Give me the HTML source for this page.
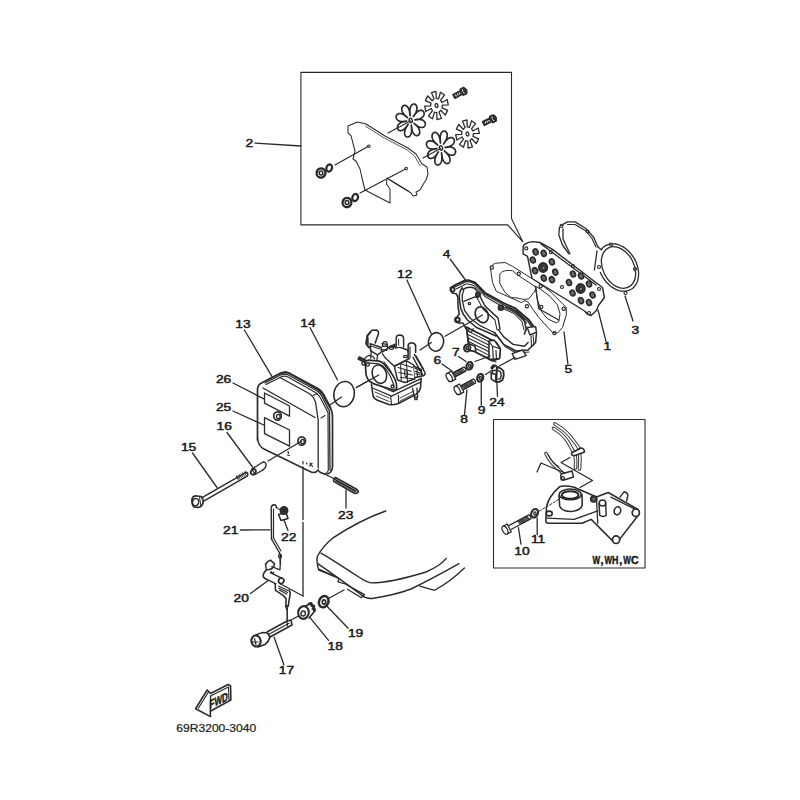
<!DOCTYPE html>
<html><head><meta charset="utf-8"><style>
html,body{margin:0;padding:0;background:#fff;width:800px;height:800px;overflow:hidden}
svg{display:block}
text{font-family:"Liberation Sans",sans-serif;fill:#1a1a1a;stroke:#1a1a1a;stroke-width:0.45px}
</style></head><body>
<svg width="800" height="800" viewBox="0 0 800 800" stroke="#2a2a2a" fill="none" stroke-linecap="round" stroke-linejoin="round">
<path d="M300.9,72.4 H511.5 V218.5 L522.8,241.8 L507.8,224.9 H300.9 Z" stroke-width="1.1" fill="none"/>
<text transform="translate(245.5,146.9) scale(1.28,1)" font-size="10.8" font-weight="normal" text-anchor="start">2</text>
<line x1="255.1" y1="143.1" x2="300.9" y2="146" stroke-width="1.3"/>
<path d="M348,126 L357.5,122 L366,124 L385,136 L408,148 L416,154 L422,164 L427,167 L428,174 L426,180 L424,183 L420,190 L416,192 L417,195 L413,196 L411,193 L408,191 L390,180 L387,178 L386.5,184 L390,189 L390,203 L365,190 L362.5,180 L360,169 L356,161 L353,159 L355,151 L351,135.6 L348,133 Z" stroke-width="1.04" fill="none"/>
<path d="M365.5,126.2 L384.2,138 L407.3,150 L414.5,156 L420,165.5" stroke-width="0.78" fill="none"/>
<line x1="390" y1="180" x2="408" y2="191" stroke-width="1.04"/>
<line x1="335" y1="165" x2="368" y2="146.5" stroke-width="1.17"/>
<ellipse cx="368.8" cy="146.3" rx="1.3" ry="1.3" stroke-width="1.04" fill="none" transform="rotate(0 368.8 146.3)"/>
<line x1="360" y1="193" x2="405.5" y2="169" stroke-width="1.17"/>
<ellipse cx="406.2" cy="168.6" rx="1.3" ry="1.3" stroke-width="1.04" fill="none" transform="rotate(0 406.2 168.6)"/>
<line x1="388" y1="133" x2="410.5" y2="121" stroke-width="1.17"/>
<line x1="423" y1="158" x2="440.5" y2="148.5" stroke-width="1.17"/>
<ellipse cx="321" cy="173" rx="4.4" ry="4.6" stroke-width="2.34" fill="none" transform="rotate(20 321 173)"/>
<ellipse cx="321" cy="173" rx="1.8" ry="2" stroke-width="1.56" fill="none" transform="rotate(0 321 173)"/>
<ellipse cx="329.2" cy="168" rx="2.8" ry="3.6" stroke-width="2.21" fill="none" transform="rotate(20 329.2 168)"/>
<ellipse cx="347" cy="202.5" rx="4.4" ry="4.6" stroke-width="2.34" fill="none" transform="rotate(20 347 202.5)"/>
<ellipse cx="347" cy="202.5" rx="1.8" ry="2" stroke-width="1.56" fill="none" transform="rotate(0 347 202.5)"/>
<ellipse cx="355.2" cy="197.5" rx="2.8" ry="3.6" stroke-width="2.21" fill="none" transform="rotate(20 355.2 197.5)"/>
<path d="M425.24,124.90 L425.15,125.22 L425.02,125.52 L424.87,125.82 L424.69,126.09 L424.47,126.35 L424.23,126.59 L423.96,126.81 L423.65,127.01 L423.32,127.18 L422.95,127.32 L422.55,127.42 L422.11,127.49 L421.64,127.52 L421.13,127.50 L420.56,127.42 L419.93,127.26 L419.22,127.01 L418.38,126.61 L417.27,125.95 L414.08,123.40 L417.08,126.23 L417.93,127.27 L418.49,128.09 L418.89,128.81 L419.18,129.45 L419.40,130.05 L419.55,130.61 L419.65,131.13 L419.71,131.62 L419.72,132.09 L419.69,132.53 L419.64,132.94 L419.55,133.32 L419.43,133.68 L419.29,134.01 L419.12,134.31 L418.94,134.58 L418.73,134.83 L418.50,135.04 L418.25,135.22 L417.99,135.37 L417.71,135.49 L417.42,135.58 L417.12,135.62 L416.80,135.64 L416.48,135.61 L416.15,135.55 L415.81,135.44 L415.47,135.29 L415.12,135.10 L414.77,134.85 L414.42,134.55 L414.07,134.19 L413.72,133.76 L413.37,133.25 L413.03,132.64 L412.68,131.89 L412.33,130.93 L411.97,129.58 L411.30,125.22 L411.65,129.63 L411.60,131.04 L411.49,132.07 L411.32,132.89 L411.13,133.59 L410.91,134.18 L410.67,134.70 L410.41,135.15 L410.14,135.54 L409.86,135.88 L409.57,136.17 L409.27,136.42 L408.97,136.62 L408.67,136.78 L408.36,136.90 L408.06,136.98 L407.75,137.02 L407.45,137.02 L407.16,136.99 L406.87,136.92 L406.59,136.82 L406.32,136.68 L406.06,136.50 L405.81,136.30 L405.58,136.05 L405.37,135.78 L405.18,135.47 L405.01,135.12 L404.86,134.74 L404.73,134.33 L404.64,133.87 L404.58,133.38 L404.56,132.84 L404.58,132.26 L404.65,131.62 L404.79,130.91 L405.01,130.10 L405.36,129.15 L405.94,127.89 L408.19,124.28 L405.69,127.67 L404.78,128.64 L404.05,129.27 L403.42,129.72 L402.85,130.06 L402.32,130.30 L401.83,130.48 L401.37,130.59 L400.93,130.65 L400.52,130.66 L400.14,130.64 L399.78,130.57 L399.44,130.47 L399.12,130.34 L398.83,130.18 L398.56,129.99 L398.32,129.78 L398.11,129.54 L397.92,129.28 L397.76,129.00 L397.63,128.70 L397.52,128.39 L397.45,128.06 L397.40,127.71 L397.39,127.36 L397.42,126.99 L397.47,126.62 L397.57,126.24 L397.70,125.85 L397.87,125.46 L398.09,125.06 L398.35,124.66 L398.67,124.27 L399.05,123.87 L399.50,123.47 L400.04,123.08 L400.70,122.69 L401.54,122.29 L402.74,121.88 L406.59,121.12 L402.70,121.52 L401.45,121.47 L400.54,121.33 L399.81,121.15 L399.20,120.93 L398.68,120.68 L398.22,120.41 L397.82,120.12 L397.48,119.81 L397.18,119.49 L396.92,119.16 L396.71,118.83 L396.53,118.49 L396.39,118.14 L396.28,117.79 L396.21,117.45 L396.18,117.10 L396.17,116.76 L396.20,116.43 L396.26,116.10 L396.35,115.78 L396.48,115.48 L396.63,115.18 L396.81,114.91 L397.03,114.65 L397.27,114.41 L397.54,114.19 L397.85,113.99 L398.18,113.82 L398.55,113.68 L398.95,113.58 L399.39,113.51 L399.86,113.48 L400.37,113.50 L400.94,113.58 L401.57,113.74 L402.28,113.99 L403.12,114.39 L404.23,115.05 L407.42,117.60 L404.42,114.77 L403.57,113.73 L403.01,112.91 L402.61,112.19 L402.32,111.55 L402.10,110.95 L401.95,110.39 L401.85,109.87 L401.79,109.38 L401.78,108.91 L401.81,108.47 L401.86,108.06 L401.95,107.68 L402.07,107.32 L402.21,106.99 L402.38,106.69 L402.56,106.42 L402.77,106.17 L403.00,105.96 L403.25,105.78 L403.51,105.63 L403.79,105.51 L404.08,105.42 L404.38,105.38 L404.70,105.36 L405.02,105.39 L405.35,105.45 L405.69,105.56 L406.03,105.71 L406.38,105.90 L406.73,106.15 L407.08,106.45 L407.43,106.81 L407.78,107.24 L408.13,107.75 L408.47,108.36 L408.82,109.11 L409.17,110.07 L409.53,111.42 L410.20,115.78 L409.85,111.37 L409.90,109.96 L410.01,108.93 L410.18,108.11 L410.37,107.41 L410.59,106.82 L410.83,106.30 L411.09,105.85 L411.36,105.46 L411.64,105.12 L411.93,104.83 L412.23,104.58 L412.53,104.38 L412.83,104.22 L413.14,104.10 L413.44,104.02 L413.75,103.98 L414.05,103.98 L414.34,104.01 L414.63,104.08 L414.91,104.18 L415.18,104.32 L415.44,104.50 L415.69,104.70 L415.92,104.95 L416.13,105.22 L416.32,105.53 L416.49,105.88 L416.64,106.26 L416.77,106.67 L416.86,107.13 L416.92,107.62 L416.94,108.16 L416.92,108.74 L416.85,109.38 L416.71,110.09 L416.49,110.90 L416.14,111.85 L415.56,113.11 L413.31,116.72 L415.81,113.33 L416.72,112.36 L417.45,111.73 L418.08,111.28 L418.65,110.94 L419.18,110.70 L419.67,110.52 L420.13,110.41 L420.57,110.35 L420.98,110.34 L421.36,110.36 L421.72,110.43 L422.06,110.53 L422.38,110.66 L422.67,110.82 L422.94,111.01 L423.18,111.22 L423.39,111.46 L423.58,111.72 L423.74,112.00 L423.87,112.30 L423.98,112.61 L424.05,112.94 L424.10,113.29 L424.11,113.64 L424.08,114.01 L424.03,114.38 L423.93,114.76 L423.80,115.15 L423.63,115.54 L423.41,115.94 L423.15,116.34 L422.83,116.73 L422.45,117.13 L422.00,117.53 L421.46,117.92 L420.80,118.31 L419.96,118.71 L418.76,119.12 L414.91,119.88 L418.80,119.48 L420.05,119.53 L420.96,119.67 L421.69,119.85 L422.30,120.07 L422.82,120.32 L423.28,120.59 L423.68,120.88 L424.02,121.19 L424.32,121.51 L424.58,121.84 L424.79,122.17 L424.97,122.51 L425.11,122.86 L425.22,123.21 L425.29,123.55 L425.32,123.90 L425.33,124.24 L425.30,124.57 L425.24,124.90Z" stroke-width="1.69" fill="none"/>
<ellipse cx="410.75" cy="120.5" rx="1.5" ry="2.2" stroke-width="1.43" fill="none" transform="rotate(-20 410.75 120.5)"/>
<path d="M455.49,152.53 L455.40,152.86 L455.27,153.17 L455.12,153.47 L454.94,153.76 L454.72,154.03 L454.48,154.27 L454.21,154.50 L453.90,154.70 L453.57,154.88 L453.20,155.02 L452.80,155.13 L452.36,155.20 L451.89,155.23 L451.38,155.20 L450.81,155.12 L450.18,154.96 L449.47,154.70 L448.63,154.29 L447.52,153.61 L444.33,150.98 L447.33,153.90 L448.18,154.97 L448.74,155.81 L449.14,156.55 L449.43,157.22 L449.65,157.83 L449.80,158.40 L449.90,158.94 L449.96,159.45 L449.97,159.93 L449.94,160.38 L449.89,160.80 L449.80,161.20 L449.68,161.57 L449.54,161.91 L449.37,162.22 L449.19,162.50 L448.98,162.75 L448.75,162.97 L448.50,163.16 L448.24,163.31 L447.96,163.43 L447.67,163.52 L447.37,163.57 L447.05,163.58 L446.73,163.56 L446.40,163.49 L446.06,163.38 L445.72,163.23 L445.37,163.03 L445.02,162.77 L444.67,162.47 L444.32,162.10 L443.97,161.65 L443.62,161.13 L443.28,160.50 L442.93,159.73 L442.58,158.74 L442.22,157.35 L441.55,152.86 L441.90,157.39 L441.85,158.85 L441.74,159.91 L441.57,160.76 L441.38,161.47 L441.16,162.09 L440.92,162.62 L440.66,163.08 L440.39,163.49 L440.11,163.83 L439.82,164.13 L439.52,164.39 L439.22,164.59 L438.92,164.76 L438.61,164.88 L438.31,164.96 L438.00,165.00 L437.70,165.01 L437.41,164.97 L437.12,164.90 L436.84,164.80 L436.57,164.65 L436.31,164.47 L436.06,164.26 L435.83,164.01 L435.62,163.73 L435.43,163.41 L435.26,163.05 L435.11,162.66 L434.98,162.23 L434.89,161.77 L434.83,161.26 L434.81,160.71 L434.83,160.11 L434.90,159.45 L435.04,158.72 L435.26,157.89 L435.61,156.90 L436.19,155.61 L438.44,151.89 L435.94,155.38 L435.03,156.38 L434.30,157.03 L433.67,157.50 L433.10,157.84 L432.57,158.09 L432.08,158.27 L431.62,158.39 L431.18,158.45 L430.77,158.46 L430.39,158.44 L430.03,158.37 L429.69,158.27 L429.37,158.13 L429.08,157.96 L428.81,157.77 L428.57,157.55 L428.36,157.31 L428.17,157.04 L428.01,156.75 L427.88,156.44 L427.77,156.12 L427.70,155.78 L427.65,155.43 L427.64,155.06 L427.67,154.68 L427.72,154.30 L427.82,153.90 L427.95,153.50 L428.12,153.10 L428.34,152.69 L428.60,152.29 L428.92,151.88 L429.30,151.47 L429.75,151.06 L430.29,150.66 L430.95,150.25 L431.79,149.85 L432.99,149.42 L436.84,148.64 L432.95,149.05 L431.70,149.00 L430.79,148.86 L430.06,148.67 L429.45,148.44 L428.93,148.18 L428.47,147.90 L428.07,147.61 L427.73,147.29 L427.43,146.96 L427.17,146.62 L426.96,146.28 L426.78,145.93 L426.64,145.57 L426.53,145.21 L426.46,144.86 L426.43,144.50 L426.42,144.15 L426.45,143.81 L426.51,143.47 L426.60,143.14 L426.73,142.83 L426.88,142.53 L427.06,142.24 L427.28,141.97 L427.52,141.73 L427.79,141.50 L428.10,141.30 L428.43,141.12 L428.80,140.98 L429.20,140.87 L429.64,140.80 L430.11,140.77 L430.62,140.80 L431.19,140.88 L431.82,141.04 L432.53,141.30 L433.37,141.71 L434.48,142.39 L437.67,145.02 L434.67,142.10 L433.82,141.03 L433.26,140.19 L432.86,139.45 L432.57,138.78 L432.35,138.17 L432.20,137.60 L432.10,137.06 L432.04,136.55 L432.03,136.07 L432.06,135.62 L432.11,135.20 L432.20,134.80 L432.32,134.43 L432.46,134.09 L432.63,133.78 L432.81,133.50 L433.02,133.25 L433.25,133.03 L433.50,132.84 L433.76,132.69 L434.04,132.57 L434.33,132.48 L434.63,132.43 L434.95,132.42 L435.27,132.44 L435.60,132.51 L435.94,132.62 L436.28,132.77 L436.63,132.97 L436.98,133.23 L437.33,133.53 L437.68,133.90 L438.03,134.35 L438.38,134.87 L438.72,135.50 L439.07,136.27 L439.42,137.26 L439.78,138.65 L440.45,143.14 L440.10,138.61 L440.15,137.15 L440.26,136.09 L440.43,135.24 L440.62,134.53 L440.84,133.91 L441.08,133.38 L441.34,132.92 L441.61,132.51 L441.89,132.17 L442.18,131.87 L442.48,131.61 L442.78,131.41 L443.08,131.24 L443.39,131.12 L443.69,131.04 L444.00,131.00 L444.30,130.99 L444.59,131.03 L444.88,131.10 L445.16,131.20 L445.43,131.35 L445.69,131.53 L445.94,131.74 L446.17,131.99 L446.38,132.27 L446.57,132.59 L446.74,132.95 L446.89,133.34 L447.02,133.77 L447.11,134.23 L447.17,134.74 L447.19,135.29 L447.17,135.89 L447.10,136.55 L446.96,137.28 L446.74,138.11 L446.39,139.10 L445.81,140.39 L443.56,144.11 L446.06,140.62 L446.97,139.62 L447.70,138.97 L448.33,138.50 L448.90,138.16 L449.43,137.91 L449.92,137.73 L450.38,137.61 L450.82,137.55 L451.23,137.54 L451.61,137.56 L451.97,137.63 L452.31,137.73 L452.63,137.87 L452.92,138.04 L453.19,138.23 L453.43,138.45 L453.64,138.69 L453.83,138.96 L453.99,139.25 L454.12,139.56 L454.23,139.88 L454.30,140.22 L454.35,140.57 L454.36,140.94 L454.33,141.32 L454.28,141.70 L454.18,142.10 L454.05,142.50 L453.88,142.90 L453.66,143.31 L453.40,143.71 L453.08,144.12 L452.70,144.53 L452.25,144.94 L451.71,145.34 L451.05,145.75 L450.21,146.15 L449.01,146.58 L445.16,147.36 L449.05,146.95 L450.30,147.00 L451.21,147.14 L451.94,147.33 L452.55,147.56 L453.07,147.82 L453.53,148.10 L453.93,148.39 L454.27,148.71 L454.57,149.04 L454.83,149.38 L455.04,149.72 L455.22,150.07 L455.36,150.43 L455.47,150.79 L455.54,151.14 L455.57,151.50 L455.58,151.85 L455.55,152.19 L455.49,152.53Z" stroke-width="1.69" fill="none"/>
<ellipse cx="441" cy="148" rx="1.5" ry="2.2" stroke-width="1.43" fill="none" transform="rotate(-20 441 148)"/>
<path d="M442.04,107.93 L447.59,110.36 L445.20,115.09 L440.85,110.30 L438.99,111.93 L441.49,118.37 L437.01,119.69 L436.76,112.59 L434.48,112.17 L432.46,118.84 L428.53,115.97 L432.51,110.73 L431.15,108.50 L425.81,111.50 L424.71,106.12 L430.61,105.81 L430.96,103.07 L425.41,100.64 L427.80,95.91 L432.15,100.70 L434.01,99.07 L431.51,92.63 L435.99,91.31 L436.24,98.41 L438.52,98.83 L440.54,92.16 L444.47,95.03 L440.49,100.27 L441.85,102.50 L447.19,99.50 L448.29,104.88 L442.39,105.19Z" stroke-width="1.3" fill="none"/>
<ellipse cx="436.5" cy="105.5" rx="1.4" ry="2" stroke-width="1.3" fill="none" transform="rotate(-20 436.5 105.5)"/>
<path d="M473.04,136.43 L478.59,138.86 L476.20,143.59 L471.85,138.80 L469.99,140.43 L472.49,146.87 L468.01,148.19 L467.76,141.09 L465.48,140.67 L463.46,147.34 L459.53,144.47 L463.51,139.23 L462.15,137.00 L456.81,140.00 L455.71,134.62 L461.61,134.31 L461.96,131.57 L456.41,129.14 L458.80,124.41 L463.15,129.20 L465.01,127.57 L462.51,121.13 L466.99,119.81 L467.24,126.91 L469.52,127.33 L471.54,120.66 L475.47,123.53 L471.49,128.77 L472.85,131.00 L478.19,128.00 L479.29,133.38 L473.39,133.69Z" stroke-width="1.3" fill="none"/>
<ellipse cx="467.5" cy="134" rx="1.4" ry="2" stroke-width="1.3" fill="none" transform="rotate(-20 467.5 134)"/>
<path d="M454.91,98.17 L462.84,93.84 L461.02,90.51 L453.09,94.83 Z" stroke-width="1.69" fill="#fff"/>
<line x1="455.96" y1="97.59" x2="454.14" y2="94.26" stroke-width="1.04"/>
<line x1="457.72" y1="96.64" x2="455.9" y2="93.3" stroke-width="1.04"/>
<line x1="459.47" y1="95.68" x2="457.66" y2="92.34" stroke-width="1.04"/>
<line x1="461.23" y1="94.72" x2="459.41" y2="91.38" stroke-width="1.04"/>
<path d="M463.46,94.99 L466.53,93.31 Q467.19,89.30 463.47,87.69 L460.40,89.37 Z" stroke-width="1.95" fill="#fff"/>
<ellipse cx="465" cy="90.5" rx="1.2" ry="1.8" stroke-width="1.56" fill="#444" transform="rotate(-28.6 465 90.5)"/>
<path d="M484.35,125.20 L492.22,121.26 L490.52,117.87 L482.65,121.80 Z" stroke-width="1.69" fill="#fff"/>
<line x1="485.42" y1="124.66" x2="483.72" y2="121.26" stroke-width="1.04"/>
<line x1="487.21" y1="123.77" x2="485.51" y2="120.37" stroke-width="1.04"/>
<line x1="489.0" y1="122.87" x2="487.3" y2="119.48" stroke-width="1.04"/>
<line x1="490.79" y1="121.98" x2="489.09" y2="118.58" stroke-width="1.04"/>
<path d="M492.80,122.43 L495.93,120.86 Q496.74,116.88 493.07,115.14 L489.94,116.70 Z" stroke-width="1.95" fill="#fff"/>
<ellipse cx="494.5" cy="118" rx="1.2" ry="1.8" stroke-width="1.56" fill="#444" transform="rotate(-26.6 494.5 118)"/>
<path d="M493.5,419.5 H645 V568 H493.5 Z" stroke-width="1.1" fill="none"/>
<text x="592.5" y="563.8" font-size="10.8" font-weight="bold" textLength="7.60" lengthAdjust="spacingAndGlyphs">W</text>
<text x="600.45" y="563.8" font-size="10.8" font-weight="bold">,</text>
<text x="604.5" y="563.8" font-size="10.8" font-weight="bold" textLength="7.50" lengthAdjust="spacingAndGlyphs">W</text>
<text x="612.0" y="563.8" font-size="10.8" font-weight="bold" textLength="6.40" lengthAdjust="spacingAndGlyphs">H</text>
<text x="619.2" y="563.8" font-size="10.8" font-weight="bold">,</text>
<text x="623.2" y="563.8" font-size="10.8" font-weight="bold" textLength="7.60" lengthAdjust="spacingAndGlyphs">W</text>
<text x="631.1" y="563.8" font-size="10.8" font-weight="bold" textLength="7.60" lengthAdjust="spacingAndGlyphs">C</text>
<text transform="translate(514.3,554.7) scale(1.28,1)" font-size="10.8" font-weight="normal" text-anchor="start">10</text>
<text transform="translate(530.9,543.4) scale(1.28,1)" font-size="10.8" font-weight="normal" text-anchor="start">11</text>
<line x1="518.4" y1="527.6" x2="521" y2="544.2" stroke-width="1.3"/>
<line x1="537.2" y1="518" x2="537.2" y2="534.6" stroke-width="1.3"/>
<text transform="translate(442.75,257.5) scale(1.28,1)" font-size="10.8" font-weight="normal" text-anchor="start">4</text>
<line x1="450.25" y1="259.25" x2="465.5" y2="280" stroke-width="1.3"/>
<text transform="translate(397,277.6) scale(1.28,1)" font-size="10.8" font-weight="normal" text-anchor="start">12</text>
<line x1="406.9" y1="280" x2="431.3" y2="333.8" stroke-width="1.3"/>
<text transform="translate(235.3,328.2) scale(1.28,1)" font-size="10.8" font-weight="normal" text-anchor="start">13</text>
<line x1="244.4" y1="330" x2="271.9" y2="376.3" stroke-width="1.3"/>
<text transform="translate(300.3,326.5) scale(1.28,1)" font-size="10.8" font-weight="normal" text-anchor="start">14</text>
<line x1="310" y1="327.5" x2="337.5" y2="380" stroke-width="1.3"/>
<text transform="translate(215.9,383.3) scale(1.28,1)" font-size="10.8" font-weight="normal" text-anchor="start">26</text>
<line x1="233" y1="383" x2="263.8" y2="398.8" stroke-width="1.3"/>
<text transform="translate(215.9,410.6) scale(1.28,1)" font-size="10.8" font-weight="normal" text-anchor="start">25</text>
<line x1="233" y1="411" x2="263.8" y2="425" stroke-width="1.3"/>
<text transform="translate(216.5,430.3) scale(1.28,1)" font-size="10.8" font-weight="normal" text-anchor="start">16</text>
<line x1="227" y1="432.5" x2="252.5" y2="467" stroke-width="1.3"/>
<text transform="translate(180.9,450.8) scale(1.28,1)" font-size="10.8" font-weight="normal" text-anchor="start">15</text>
<line x1="192.5" y1="453" x2="217" y2="487.5" stroke-width="1.3"/>
<text transform="translate(433.4,363.8) scale(1.28,1)" font-size="10.8" font-weight="normal" text-anchor="start">6</text>
<line x1="442" y1="364" x2="452" y2="371" stroke-width="1.3"/>
<text transform="translate(452,355.6) scale(1.28,1)" font-size="10.8" font-weight="normal" text-anchor="start">7</text>
<line x1="458.5" y1="356.5" x2="466" y2="361.5" stroke-width="1.3"/>
<text transform="translate(460.3,423.3) scale(1.28,1)" font-size="10.8" font-weight="normal" text-anchor="start">8</text>
<line x1="466.9" y1="390" x2="464.4" y2="415.6" stroke-width="1.3"/>
<text transform="translate(477.8,414.4) scale(1.28,1)" font-size="10.8" font-weight="normal" text-anchor="start">9</text>
<line x1="481.25" y1="381.25" x2="481.25" y2="405" stroke-width="1.3"/>
<text transform="translate(489.3,406) scale(1.28,1)" font-size="10.8" font-weight="normal" text-anchor="start">24</text>
<line x1="496.9" y1="382.5" x2="497.5" y2="396.3" stroke-width="1.3"/>
<text transform="translate(603.4,350.4) scale(1.28,1)" font-size="10.8" font-weight="normal" text-anchor="start">1</text>
<line x1="598" y1="310" x2="606" y2="341.4" stroke-width="1.3"/>
<text transform="translate(631.5,333.5) scale(1.28,1)" font-size="10.8" font-weight="normal" text-anchor="start">3</text>
<line x1="625" y1="296" x2="633" y2="321" stroke-width="1.3"/>
<text transform="translate(564.4,373.4) scale(1.28,1)" font-size="10.8" font-weight="normal" text-anchor="start">5</text>
<line x1="564" y1="332" x2="567.9" y2="363.9" stroke-width="1.3"/>
<text transform="translate(338,518.7) scale(1.28,1)" font-size="10.8" font-weight="normal" text-anchor="start">23</text>
<line x1="346" y1="490" x2="346" y2="508" stroke-width="1.3"/>
<text transform="translate(223,534) scale(1.28,1)" font-size="10.8" font-weight="normal" text-anchor="start">21</text>
<line x1="240.5" y1="530" x2="270" y2="529.8" stroke-width="1.3"/>
<text transform="translate(281,540.5) scale(1.28,1)" font-size="10.8" font-weight="normal" text-anchor="start">22</text>
<line x1="284" y1="520" x2="288" y2="530.5" stroke-width="1.3"/>
<text transform="translate(233.5,601.5) scale(1.28,1)" font-size="10.8" font-weight="normal" text-anchor="start">20</text>
<line x1="250.5" y1="593.5" x2="268.3" y2="580.4" stroke-width="1.3"/>
<text transform="translate(347.9,637.2) scale(1.28,1)" font-size="10.8" font-weight="normal" text-anchor="start">19</text>
<line x1="327" y1="606.3" x2="348.1" y2="628.2" stroke-width="1.3"/>
<text transform="translate(327.6,649.8) scale(1.28,1)" font-size="10.8" font-weight="normal" text-anchor="start">18</text>
<line x1="310" y1="617.6" x2="328.6" y2="640.4" stroke-width="1.3"/>
<text transform="translate(278.8,673.7) scale(1.28,1)" font-size="10.8" font-weight="normal" text-anchor="start">17</text>
<line x1="274.1" y1="637.2" x2="283.9" y2="664.8" stroke-width="1.3"/>
<text transform="translate(176.3,732.2) scale(1.185,1)" font-size="10.2" font-weight="normal" text-anchor="start" style="stroke-width:0.2px">69R3200-3040</text>
<path d="M560.6,225.6 L567.5,221.9 L575,221.9 L586.3,228.8 L593.8,237.5 L598,246.9" stroke-width="1.3" fill="none"/>
<path d="M598,246.9 L601.2,249.8 L602.2,248.5 L603.3,247.3 L604.6,246.3 L605.9,245.4 L607.4,244.8 L608.9,244.3 L610.5,243.9 L612.1,243.8 L613.9,243.8 L615.6,244.0 L617.4,244.4 L619.1,245.0 L620.9,245.7 L622.6,246.6 L624.3,247.6 L626.0,248.9 L627.6,250.2 L629.1,251.7 L630.6,253.3 L631.9,255.0 L633.2,256.8 L634.3,258.7 L635.4,260.6 L636.3,262.7 L637.0,264.7 L637.6,266.8 L638.1,268.8 L638.4,270.9 L638.6,272.9 L638.6,274.9 L638.4,276.9 L638.1,278.7 L637.7,280.5 L637.1,282.2 L636.3,283.8 L635.4,285.2 L634.4,286.5 L633.3,287.7 L632.1,288.7 L630.7,289.5 L629.3,290.2 L627.7,290.7 L626.1,291.1 L624.5,291.2 L622.8,291.2 L621.0,291.0 L619.3,290.6 L617.5,290.1 L615.7,289.3 L614.0,288.4 L612.3,287.4 L610.6,286.2 L609.0,284.8 L607.5,283.3 L606.0,281.7 L604.7,280.0 L603.4,278.2 L602.3,276.3 L601.3,274.4 L600.4,272.4" stroke-width="1.3" fill="none"/>
<path d="M594.4,270 L595.6,261 L597,251" stroke-width="1.3" fill="none"/>
<path d="M559.4,227.5 L558.8,235 L562.5,245 L568.8,253.8" stroke-width="1.3" fill="none"/>
<path d="M563,228.8 L563,238.8 L567.5,248.8 L570,253.8" stroke-width="1.3" fill="none"/>
<path d="M567.5,224.5 L575,224.5 L586,231 L592,238.5 L596,247" stroke-width="1.17" fill="none"/>
<ellipse cx="618.5" cy="267.5" rx="15.5" ry="22" stroke-width="1.3" fill="none" transform="rotate(-28 618.5 267.5)"/>
<ellipse cx="561.5" cy="226" rx="1.5" ry="1.5" stroke-width="1.17" fill="none" transform="rotate(0 561.5 226)"/>
<ellipse cx="587.5" cy="231.5" rx="1.5" ry="1.5" stroke-width="1.17" fill="none" transform="rotate(0 587.5 231.5)"/>
<ellipse cx="611" cy="244.5" rx="1.5" ry="1.5" stroke-width="1.17" fill="none" transform="rotate(0 611 244.5)"/>
<ellipse cx="635" cy="269" rx="1.5" ry="1.5" stroke-width="1.17" fill="none" transform="rotate(0 635 269)"/>
<ellipse cx="625.5" cy="293" rx="1.5" ry="1.5" stroke-width="1.17" fill="none" transform="rotate(0 625.5 293)"/>
<ellipse cx="599" cy="267" rx="1.5" ry="1.5" stroke-width="1.17" fill="none" transform="rotate(0 599 267)"/>
<path d="M523.1,246.6 L524.4,244.4 C527,242.5 530,241.6 533.1,241.6 L540,242.5 L552.5,249.4 L597.5,283.8 L602.5,287.5 L604.4,297.5 L598.8,305 L596,311 L591,315.5 C587,315 586,313 585,311.25 L563.75,298 L532,278.5 L527.5,256.3 L523.1,253.8 Z" stroke-width="1.43" fill="#fff"/>
<line x1="541" y1="244" x2="596" y2="285" stroke-width="1.3"/>
<ellipse cx="535.6" cy="251.9" rx="2.4" ry="3.0" stroke-width="1.62" fill="#6a6a6a" transform="rotate(-20 535.6 251.9)"/>
<ellipse cx="543.75" cy="253.4" rx="2.4" ry="3.0" stroke-width="1.62" fill="#6a6a6a" transform="rotate(-20 543.75 253.4)"/>
<ellipse cx="532.8" cy="260" rx="2.4" ry="3.0" stroke-width="1.62" fill="#6a6a6a" transform="rotate(-20 532.8 260)"/>
<ellipse cx="551.9" cy="261.9" rx="2.4" ry="3.0" stroke-width="1.62" fill="#6a6a6a" transform="rotate(-20 551.9 261.9)"/>
<ellipse cx="535" cy="270.6" rx="2.4" ry="3.0" stroke-width="1.62" fill="#6a6a6a" transform="rotate(-20 535 270.6)"/>
<ellipse cx="555.3" cy="272.2" rx="2.4" ry="3.0" stroke-width="1.62" fill="#6a6a6a" transform="rotate(-20 555.3 272.2)"/>
<ellipse cx="543.75" cy="278.1" rx="2.4" ry="3.0" stroke-width="1.62" fill="#6a6a6a" transform="rotate(-20 543.75 278.1)"/>
<ellipse cx="551.9" cy="279.7" rx="2.4" ry="3.0" stroke-width="1.62" fill="#6a6a6a" transform="rotate(-20 551.9 279.7)"/>
<ellipse cx="543.1" cy="267.5" rx="4.3" ry="4.6" stroke-width="1.69" fill="#3a3a3a" transform="rotate(0 543.1 267.5)"/>
<ellipse cx="543.5" cy="268" rx="1.6" ry="1.8" stroke-width="1.04" fill="#888" transform="rotate(0 543.5 268)"/>
<ellipse cx="573" cy="274" rx="2.4" ry="3.0" stroke-width="1.62" fill="#6a6a6a" transform="rotate(-20 573 274)"/>
<ellipse cx="581" cy="276" rx="2.4" ry="3.0" stroke-width="1.62" fill="#6a6a6a" transform="rotate(-20 581 276)"/>
<ellipse cx="569" cy="282.5" rx="2.4" ry="3.0" stroke-width="1.62" fill="#6a6a6a" transform="rotate(-20 569 282.5)"/>
<ellipse cx="589" cy="284" rx="2.4" ry="3.0" stroke-width="1.62" fill="#6a6a6a" transform="rotate(-20 589 284)"/>
<ellipse cx="572.5" cy="293" rx="2.4" ry="3.0" stroke-width="1.62" fill="#6a6a6a" transform="rotate(-20 572.5 293)"/>
<ellipse cx="592.5" cy="295" rx="2.4" ry="3.0" stroke-width="1.62" fill="#6a6a6a" transform="rotate(-20 592.5 295)"/>
<ellipse cx="581" cy="300.6" rx="2.4" ry="3.0" stroke-width="1.62" fill="#6a6a6a" transform="rotate(-20 581 300.6)"/>
<ellipse cx="589" cy="302.5" rx="2.4" ry="3.0" stroke-width="1.62" fill="#6a6a6a" transform="rotate(-20 589 302.5)"/>
<ellipse cx="580.6" cy="288.5" rx="4.3" ry="4.6" stroke-width="1.69" fill="#3a3a3a" transform="rotate(0 580.6 288.5)"/>
<ellipse cx="581" cy="289" rx="1.6" ry="1.8" stroke-width="1.04" fill="#888" transform="rotate(0 581 289)"/>
<ellipse cx="526.25" cy="248.4" rx="1.5" ry="1.5" stroke-width="1.17" fill="none" transform="rotate(0 526.25 248.4)"/>
<ellipse cx="550.9" cy="252.2" rx="1.5" ry="1.5" stroke-width="1.17" fill="none" transform="rotate(0 550.9 252.2)"/>
<ellipse cx="573" cy="266" rx="1.5" ry="1.5" stroke-width="1.17" fill="none" transform="rotate(0 573 266)"/>
<ellipse cx="562" cy="287" rx="1.5" ry="1.5" stroke-width="1.17" fill="none" transform="rotate(0 562 287)"/>
<ellipse cx="599" cy="289" rx="1.5" ry="1.5" stroke-width="1.17" fill="none" transform="rotate(0 599 289)"/>
<ellipse cx="589" cy="313" rx="1.5" ry="1.5" stroke-width="1.17" fill="none" transform="rotate(0 589 313)"/>
<path fill-rule="evenodd" fill="#fff" stroke-width="1.0" d="M490.6,266.9 C493,264 495,263 497.5,263.1 L505,262.5 L512.5,266.3 L540,283.8 L550,291.3 L561.3,302.5 L566.3,307.5 L566.3,315 L562.5,327.5 L557.5,333 L552.5,332.5 L538.8,317.5 L532.5,308.8 L528,302 L525,300.6 L521.3,302.5 L496.3,291.3 L492.5,282.5 L491.3,273.8 Z M500,273.8 C502,271 505,270 512.5,270.6 L517.5,275 L535,286.3 L536.3,288 L533.8,292.5 L528.8,298.8 C525,300 520,299 517,298 L511.3,297.5 L505,292.5 L500,283.8 Z M535.6,286.3 L540,288.8 L550,296.3 L557.5,305 L560,313.8 L558.8,321.3 L556.3,323 L547.5,318.8 L541.3,311.3 L537.5,300 Z"/>
<ellipse cx="491.9" cy="267.5" rx="1.6" ry="1.6" stroke-width="1.17" fill="none" transform="rotate(0 491.9 267.5)"/>
<ellipse cx="518.75" cy="273.75" rx="1.6" ry="1.6" stroke-width="1.17" fill="none" transform="rotate(0 518.75 273.75)"/>
<ellipse cx="540.6" cy="286.25" rx="1.6" ry="1.6" stroke-width="1.17" fill="none" transform="rotate(0 540.6 286.25)"/>
<ellipse cx="526.9" cy="306.25" rx="1.6" ry="1.6" stroke-width="1.17" fill="none" transform="rotate(0 526.9 306.25)"/>
<ellipse cx="541.25" cy="306.9" rx="1.6" ry="1.6" stroke-width="1.17" fill="none" transform="rotate(0 541.25 306.9)"/>
<ellipse cx="563.75" cy="308.75" rx="1.6" ry="1.6" stroke-width="1.17" fill="none" transform="rotate(0 563.75 308.75)"/>
<ellipse cx="554.4" cy="333.1" rx="1.6" ry="1.6" stroke-width="1.17" fill="none" transform="rotate(0 554.4 333.1)"/>
<path d="M535.6,287 L538.75,308.75 L558.75,320" stroke-width="1.3" fill="none"/>
<path fill="#fff" stroke="none" d="M450.6,287.8 L455.5,284.8 L464.5,280.6 L469,280.3 L475,282.5 L485,292.8 L503.7,303.1 L515.9,308.7 L529,320 L536.5,327 L536.5,342.5 L528.1,350 L526.2,355.6 L515,359.4 L500,358 L490,361 L470,351 L461,347 L466,329 L458.5,323 L455.5,320 L459.3,314 L458.1,307.3 L457.8,296.8 L452.1,293 Z"/>
<path d="M450.6,287.8 L455.5,284.8 L464.5,280.6 Q467,280 469,280.3 L475,282.5 L485,292.8 L503.7,303.1 L515.9,308.7 L529,320 L533.7,326.6" stroke-width="1.95" fill="none"/>
<path d="M454.8,287 L465.3,281.8 Q470,281 475,284 L485,294.5 L503.7,305 L515.9,310.5 L528,321.5 L532,327" stroke-width="1.3" fill="none"/>
<path d="M456,289 L466,284 Q470,283.5 474.5,286 L485,296.5 L503,307 L515,312.5 L526.5,323" stroke-width="1.04" fill="none"/>
<path d="M450.6,287.8 L452.1,293 L456.3,293.8 L457.8,296.8 L458.1,307.3 L459.3,314 L457,317 L455.5,320 L458.5,323 L463,323 L466,329" stroke-width="1.56" fill="none"/>
<ellipse cx="452.5" cy="289.6" rx="2.1" ry="2.1" stroke-width="1.82" fill="none" transform="rotate(0 452.5 289.6)"/>
<ellipse cx="457.4" cy="319.8" rx="2.3" ry="2.3" stroke-width="2.08" fill="none" transform="rotate(0 457.4 319.8)"/>
<path d="M463,289.3 Q469,285.5 475,288.5 L478,292.3 M462.3,287.8 Q459,292 459.3,297.5 L460.8,308.8 Q463,315 467.5,320 L476.5,327.5 L487,332 L496,336" stroke-width="1.56" fill="none"/>
<path d="M463.8,290 Q461.5,295 462.3,299.8 L464.5,310.3 L470.5,318.5 L479.5,325.3 L487,329 L495,333" stroke-width="1.3" fill="none"/>
<path d="M463.8,301.3 L475,296.8 L478,297.5" stroke-width="1.3" fill="none"/>
<ellipse cx="469.4" cy="303.5" rx="1.2" ry="1.2" stroke-width="1.3" fill="none" transform="rotate(0 469.4 303.5)"/>
<ellipse cx="481.75" cy="314.75" rx="6.2" ry="8.2" stroke-width="1.69" fill="none" transform="rotate(-25 481.75 314.75)"/>
<ellipse cx="478" cy="294.5" rx="2.2" ry="2.2" stroke-width="1.69" fill="#555" transform="rotate(0 478 294.5)"/>
<path d="M478,292.3 L485,306 L498.1,318.1 L500,329.4" stroke-width="1.43" fill="none"/>
<path d="M476,296 L483,309 L495,320 L497,330" stroke-width="1.04" fill="none"/>
<ellipse cx="500.9" cy="307.8" rx="2.3" ry="2.3" stroke-width="1.95" fill="#555" transform="rotate(0 500.9 307.8)"/>
<path d="M505.6,306.9 L516,311.6 L524.4,320 L526.2,329.4 L524.4,334" stroke-width="1.56" fill="none"/>
<path d="M504,309 L514,313.5 L522,321.5 L524,330" stroke-width="1.04" fill="none"/>
<path d="M498.1,329.4 L503.7,336.9 L513.1,344.4 L524.4,346.2 L528.1,342.5" stroke-width="1.43" fill="none"/>
<path d="M494.4,332.2 L503.7,344.4 L515.9,351 L528.1,350 L535.6,342.5 L536.5,333.1" stroke-width="1.56" fill="none"/>
<path d="M496,335 L505,346.5 L516,353 L529,352" stroke-width="1.04" fill="none"/>
<path d="M527.2,327.5 L535.6,326.6 L536.5,332.2 L530,335 Z" stroke-width="1.43" fill="#fff"/>
<path d="M533,335 L534,345 M531,336 L531.5,347" stroke-width="1.04" fill="none"/>
<path d="M512.2,353.7 L522.5,350 L526.2,355.6 L515,359.4 Z" stroke-width="1.43" fill="#fff"/>
<path d="M466.25,327.00 L496.87,342.75 L500.37,348.87 L499.49,358.50 L492.49,361.12 L468.87,348.87 Z" stroke-width="1.43" fill="#fff"/>
<path d="M466.25,327.00 L492.49,340.12" stroke-width="1.04" fill="none"/>
<path d="M466.83,330.65 L493.08,343.77" stroke-width="1.04" fill="none"/>
<path d="M467.41,334.29 L493.66,347.41" stroke-width="1.04" fill="none"/>
<path d="M468.00,337.94 L494.24,351.06" stroke-width="1.04" fill="none"/>
<path d="M468.58,341.58 L494.83,354.71" stroke-width="1.04" fill="none"/>
<path d="M469.16,345.22 L495.41,358.35" stroke-width="1.04" fill="none"/>
<path d="M469.75,348.87 L495.99,361.99" stroke-width="1.04" fill="none"/>
<path d="M466.25,327.00 L469.75,348.87" stroke-width="1.43" fill="none"/>
<path d="M468.00,329.62 Q469.75,333.12 471.50,332.25 L473.25,328.75" stroke-width="1.3" fill="none"/>
<path d="M468.87,343.62 L475.00,346.25 L475.87,351.50 L469.75,350.62" stroke-width="1.56" fill="#fff"/>
<ellipse cx="467.2" cy="348" rx="3.2" ry="3.6" stroke-width="1.82" fill="#fff" transform="rotate(20 467.2 348)"/>
<ellipse cx="467.2" cy="348" rx="1.5" ry="1.8" stroke-width="1.3" fill="#777" transform="rotate(0 467.2 348)"/>
<path d="M488.99,341.00 L494.24,340.12 L500.37,348.87 L499.49,358.50 L494.24,359.37 L488.99,359.37 Z" stroke-width="1.56" fill="#fff"/>
<path d="M492.49,346.25 L493.37,359.37 M495.99,350.62 L496.43,358.50" stroke-width="1.17" fill="none"/>
<path d="M489.87,342.75 L492.49,346.25 L500.37,348.87" stroke-width="1.17" fill="none"/>
<path d="M257.5,440 L257.5,389 Q258,384.5 261.5,383 L279,374 Q284.5,371 289.5,373.5 L318,389.5 Q321,392 323,395 L331.5,410.5 Q332.5,413 332.5,417 L332.5,467 Q332,472.5 327.5,474" stroke-width="1.69" fill="none"/>
<path d="M266,380.5 L280,373.2 Q284.5,370.5 289,372.8 L318.5,388.5 Q322,391 324,394.5 L331,408" stroke-width="1.17" fill="none"/>
<path d="M265,383 L280.5,375 Q284.5,373 288.5,375 L316.5,390.5 Q320,393 322,396.5 L329.5,411.5 L330,470" stroke-width="1.3" fill="none"/>
<path d="M266,384.6 L281,377 Q284.5,375.3 288,377 L315.5,392.5 Q318.5,395 320.5,398 L328,412.5 L328.3,470 Q327.8,473 324,474" stroke-width="1.17" fill="none"/>
<line x1="263" y1="388" x2="315" y2="417.5" stroke-width="1.3"/>
<path d="M280,377.5 L310,394 Q314,397 315.5,402 L318.2,420 L318.2,468" stroke-width="1.3" fill="none"/>
<line x1="313" y1="395.5" x2="317" y2="393.5" stroke-width="1.04"/>
<line x1="321" y1="418" x2="325" y2="415.5" stroke-width="1.04"/>
<path d="M257.5,438 Q258,446 264,449 L310,471.5 Q315,474 318.2,470" stroke-width="1.43" fill="none"/>
<path d="M318.2,470 Q320,474 326,473.5" stroke-width="1.17" fill="none"/>
<path d="M264.5,393 L289.5,406 L289.5,416.2 L264.5,403.2 Z" stroke-width="1.3" fill="none"/>
<path d="M264.5,417.7 L289.5,430 L289.5,446.2 L264.5,433.7 Z" stroke-width="1.3" fill="none"/>
<ellipse cx="277.5" cy="416" rx="3.8" ry="4.2" stroke-width="1.69" fill="none" transform="rotate(0 277.5 416)"/>
<ellipse cx="278.3" cy="416.5" rx="1.8" ry="2.2" stroke-width="1.3" fill="none" transform="rotate(0 278.3 416.5)"/>
<ellipse cx="301.7" cy="441" rx="3.8" ry="4.2" stroke-width="1.69" fill="none" transform="rotate(0 301.7 441)"/>
<ellipse cx="302.5" cy="441.5" rx="1.8" ry="2.2" stroke-width="1.3" fill="none" transform="rotate(0 302.5 441.5)"/>
<ellipse cx="344.1" cy="394.1" rx="10.2" ry="12.7" stroke-width="1.49" fill="none" transform="rotate(10 344.1 394.1)"/>
<line x1="330" y1="405" x2="341.5" y2="397" stroke-width="1.3"/>
<line x1="356.3" y1="387.5" x2="378.8" y2="375" stroke-width="1.3"/>
<ellipse cx="436" cy="341.9" rx="7.6" ry="9.3" stroke-width="1.56" fill="none" transform="rotate(10 436 341.9)"/>
<line x1="420" y1="350" x2="431.3" y2="342.5" stroke-width="1.3"/>
<line x1="445" y1="336.3" x2="482.5" y2="315" stroke-width="1.3"/>
<path d="M453.52,377.73 L466.08,371.03 Q466.32,368.29 463.92,366.97 L451.35,373.67" stroke-width="1.3" fill="#fff"/>
<line x1="456.11" y1="376.35" x2="452.89" y2="372.85" stroke-width="1.04"/>
<line x1="457.13" y1="375.81" x2="453.9" y2="372.31" stroke-width="1.04"/>
<line x1="458.14" y1="375.26" x2="454.92" y2="371.77" stroke-width="1.04"/>
<line x1="459.16" y1="374.72" x2="455.93" y2="371.23" stroke-width="1.04"/>
<line x1="460.17" y1="374.18" x2="456.95" y2="370.69" stroke-width="1.04"/>
<line x1="461.19" y1="373.64" x2="457.96" y2="370.15" stroke-width="1.04"/>
<line x1="462.2" y1="373.1" x2="458.98" y2="369.61" stroke-width="1.04"/>
<line x1="463.21" y1="372.56" x2="459.99" y2="369.06" stroke-width="1.04"/>
<line x1="464.23" y1="372.02" x2="461.01" y2="368.52" stroke-width="1.04"/>
<line x1="465.24" y1="371.48" x2="462.02" y2="367.98" stroke-width="1.04"/>
<path d="M455.82,379.11 L451.43,381.45 L447.10,373.33 L451.49,370.99 Z" stroke-width="1.3" fill="#fff"/>
<ellipse cx="449.27" cy="377.39" rx="2.53" ry="4.6" stroke-width="1.3" fill="#fff" transform="rotate(-28.1 449.27 377.39)"/>
<path d="M461.52,390.70 L475.60,383.02 Q475.82,380.28 473.40,378.98 L459.32,386.66" stroke-width="1.3" fill="#fff"/>
<line x1="464.58" y1="389.03" x2="461.32" y2="385.57" stroke-width="1.04"/>
<line x1="465.59" y1="388.48" x2="462.33" y2="385.02" stroke-width="1.04"/>
<line x1="466.6" y1="387.93" x2="463.34" y2="384.47" stroke-width="1.04"/>
<line x1="467.61" y1="387.38" x2="464.35" y2="383.92" stroke-width="1.04"/>
<line x1="468.62" y1="386.83" x2="465.36" y2="383.37" stroke-width="1.04"/>
<line x1="469.63" y1="386.28" x2="466.37" y2="382.81" stroke-width="1.04"/>
<line x1="470.64" y1="385.73" x2="467.38" y2="382.26" stroke-width="1.04"/>
<line x1="471.65" y1="385.18" x2="468.39" y2="381.71" stroke-width="1.04"/>
<line x1="472.65" y1="384.63" x2="469.4" y2="381.16" stroke-width="1.04"/>
<line x1="473.66" y1="384.08" x2="470.41" y2="380.61" stroke-width="1.04"/>
<line x1="474.67" y1="383.53" x2="471.42" y2="380.06" stroke-width="1.04"/>
<path d="M463.84,392.06 L459.48,394.43 L455.07,386.36 L459.43,383.98 Z" stroke-width="1.3" fill="#fff"/>
<ellipse cx="457.27" cy="390.4" rx="2.53" ry="4.6" stroke-width="1.3" fill="#fff" transform="rotate(-28.6 457.27 390.4)"/>
<ellipse cx="469.5" cy="365.8" rx="2.9" ry="3.9" stroke-width="2.21" fill="none" transform="rotate(20 469.5 365.8)"/>
<ellipse cx="469.7" cy="366" rx="1.1" ry="1.5" stroke-width="1.3" fill="none" transform="rotate(0 469.7 366)"/>
<ellipse cx="480.2" cy="377.8" rx="2.9" ry="3.9" stroke-width="2.21" fill="none" transform="rotate(20 480.2 377.8)"/>
<ellipse cx="480.4" cy="378" rx="1.1" ry="1.5" stroke-width="1.3" fill="none" transform="rotate(0 480.4 378)"/>
<line x1="475" y1="361.5" x2="490" y2="356" stroke-width="1.3"/>
<line x1="485.5" y1="374.5" x2="492.8" y2="370" stroke-width="1.3"/>
<line x1="498.75" y1="366.25" x2="515" y2="357.5" stroke-width="1.3"/>
<path d="M491.25,367.8 L493.1,365.3 L495.6,365.3 L496.9,367.2 L500.6,368.4 L503.4,370.9 L503.75,375.6 L502.5,380 L499.4,381.9 L496.9,381.9" stroke-width="1.82" fill="none"/>
<path d="M498.1,370.6 L500.6,371.9 L501.25,375.6 L500.3,378.75 L498.1,379.1" stroke-width="1.43" fill="none"/>
<path d="M491.25,373.1 L495.9,374.4 L495.9,381.9 L491.25,379.1 Z" stroke-width="1.56" fill="#fff"/>
<path d="M491.25,373.1 L493.1,370.6 L496.9,370.3" stroke-width="1.43" fill="none"/>
<path d="M496.9,367.2 L496.25,381.9" stroke-width="1.95" fill="none"/>
<path d="M492,368.5 L494,366.5" stroke-width="2.08" fill="none"/>
<path d="M371.4,383.9 L373.1,396.1 Q374,399 378,400.5 L388.9,404.5 Q392,405.5 398.5,403.5 L416,394.4 Q419.5,392 420.5,388 L421.2,378.6" stroke-width="1.56" fill="#fff"/>
<path d="M368.7,380.4 L393.2,391.7 L421.2,378.6" stroke-width="1.43" fill="none"/>
<path d="M373.1,388.2 L391.5,396.1 L420.4,382.1" stroke-width="1.17" fill="none"/>
<path d="M390.6,396.1 L391.5,404.5 M398.5,395.2 L398.5,403.5" stroke-width="1.17" fill="none"/>
<path d="M375,392 L389,398 M376,396 L389,401.5 M400,398 L414,391 M400,401 L414,394" stroke-width="0.91" fill="none"/>
<path d="M412.5,388.2 L414.2,396.1 Q416,398 417.7,397 L416.9,388.2" stroke-width="1.3" fill="none"/>
<path d="M414.5,397 L415,399.5 L417,399.5 L417,397" stroke-width="1.43" fill="none"/>
<path d="M382.50,351.88 L390.00,346.88 L398.75,346.88 L407.50,350.00 L408.75,353.12" stroke-width="1.56" fill="none"/>
<path d="M382.50,353.75 Q385.00,358.12 387.50,360.00 L394.38,366.25 L407.50,359.38 L409.38,358.75" stroke-width="1.43" fill="none"/>
<path d="M389.38,346.88 Q390.62,345.62 393.75,345.00 L398.75,345.94 L399.38,347.50" stroke-width="1.3" fill="none"/>
<path d="M394.38,344.38 Q396.25,343.75 398.75,345.00 L400.00,346.88 L395.62,348.12 Z" stroke-width="1.43" fill="#fff"/>
<ellipse cx="391.5" cy="348" rx="2.2" ry="1.3" stroke-width="1.3" fill="none" transform="rotate(0 391.5 348)"/>
<ellipse cx="405.5" cy="356.5" rx="2.0" ry="1.2" stroke-width="1.3" fill="none" transform="rotate(0 405.5 356.5)"/>
<path d="M387.50,346.25 L386.88,342.50 Q385.62,341.25 383.75,341.88 L382.50,343.75 L382.50,346.25 Z" stroke-width="1.3" fill="none"/>
<path d="M382,343.6 Q387,344 387.6,345.2 Q388,348 386.5,350.3 L382,349.7" stroke-width="1.3" fill="none"/>
<path d="M394.38,366.25 L406.25,360.62 L413.75,365.00 L415.00,378.75 L405.00,382.50 L397.50,380.00 Z" stroke-width="1.43" fill="#fff"/>
<path d="M400.62,363.75 L412.50,367.50 M398.12,367.50 L411.25,371.25 M398.75,372.50 L412.50,375.00 M400.62,377.50 L413.12,378.75" stroke-width="1.04" fill="none"/>
<path d="M406.25,360.62 L406.88,368.75 L407.50,382.50 M400.62,364.38 L401.25,380.00" stroke-width="1.04" fill="none"/>
<path d="M405.00,370.00 Q403.75,375.00 406.25,377.50 Q408.75,375.00 406.88,371.25" stroke-width="1.17" fill="none"/>
<path d="M413.75,366.25 L421.25,369.38 L421.88,376.25 L415.00,377.50" stroke-width="1.43" fill="#fff"/>
<path d="M415.00,368.12 L420.62,370.62 M415.00,371.25 L420.00,373.12 M415.62,373.75 L420.62,375.00 M416.88,368.75 L417.50,376.88" stroke-width="1.17" fill="none"/>
<path d="M396.2,346.5 L396.2,337.5 Q396.5,335 399.9,335 Q403.4,335.2 403.6,338 L403.6,347" stroke-width="1.43" fill="#fff"/>
<line x1="398.6" y1="339" x2="398.6" y2="345" stroke-width="1.04"/>
<path d="M408.12,358.12 L408.12,345.62 Q408.44,342.81 411.88,342.81 Q415.31,343.12 415.62,345.94 L415.62,352.50" stroke-width="1.56" fill="#fff"/>
<path d="M410.00,346.88 L410.00,357.50" stroke-width="1.17" fill="none"/>
<path d="M414.38,354.38 L425.00,372.50 Q425.62,375.00 423.12,375.94 L413.12,357.50" stroke-width="1.43" fill="none"/>
<path d="M415.94,355.62 L423.75,369.38" stroke-width="1.04" fill="none"/>
<path d="M365.2,362 Q366,360.5 368.7,360.2 L379.2,361.1 Q382.5,362 384.5,364.6 L389.7,370.7 Q393,375 395,379.5 Q397,384 396.7,388.2 Q395.5,390.5 393.2,390 L374,383.9 L369.6,381.2 Q367,378.5 366.1,375.1 Z" stroke-width="1.69" fill="#fff"/>
<path d="M367.5,362.8 L378.5,363.8 Q383,365 386,369 Q391,376 393.5,384 L394,388" stroke-width="1.17" fill="none"/>
<ellipse cx="379.4" cy="374.2" rx="7.0" ry="9.4" stroke-width="1.56" fill="none" transform="rotate(-20 379.4 374.2)"/>
<path d="M384,362 Q389,368 391,372" stroke-width="1.17" fill="none"/>
<ellipse cx="367.7" cy="364.5" rx="1.6" ry="1.6" stroke-width="1.3" fill="none" transform="rotate(0 367.7 364.5)"/>
<ellipse cx="392.5" cy="386.5" rx="1.5" ry="1.5" stroke-width="1.3" fill="none" transform="rotate(0 392.5 386.5)"/>
<path d="M370.2,332.3 L371.9,330.3 L376.4,330 L378.1,331.2 L378.6,333.4 L375.2,343" stroke-width="1.56" fill="none"/>
<path d="M370.2,332.3 L367.4,335.7 L366.2,343.6 L368.5,347 L371.3,348" stroke-width="2.08" fill="none"/>
<path d="M367.8,337.5 L368,344" stroke-width="1.56" fill="none"/>
<path d="M370.2,343.6 L381.4,347.5 L381.4,352 L377.5,354.8 L370.7,350.9 Z" stroke-width="1.43" fill="#fff"/>
<path d="M371,346 L380,349" stroke-width="1.04" fill="none"/>
<path d="M371.3,350.5 L370.7,358.2 M377.5,354.8 L377,360" stroke-width="1.3" fill="none"/>
<path d="M364.6,358.7 Q367,355.5 369.6,355.4 Q373,356 374.7,358.7" stroke-width="1.3" fill="none"/>
<path d="M358.2,359 L364.6,362.2 L365.5,360.2 L359.5,357 Z" stroke-width="1.69" fill="#444"/>
<ellipse cx="363.5" cy="363.2" rx="1.6" ry="1.8" stroke-width="1.43" fill="none" transform="rotate(0 363.5 363.2)"/>
<line x1="356.3" y1="387.5" x2="378.8" y2="375" stroke-width="1.3"/>
<path d="M201.6,497.8 L245.6,472.6 Q248.5,472.2 247.6,475.8 L202.4,501.8" stroke-width="1.43" fill="#fff"/>
<line x1="236.6" y1="476.3" x2="238.4" y2="479.7" stroke-width="0.91"/>
<line x1="238.1" y1="475.43" x2="239.9" y2="478.83" stroke-width="0.91"/>
<line x1="239.6" y1="474.57" x2="241.4" y2="477.97" stroke-width="0.91"/>
<line x1="241.1" y1="473.7" x2="242.9" y2="477.1" stroke-width="0.91"/>
<line x1="242.6" y1="472.83" x2="244.4" y2="476.23" stroke-width="0.91"/>
<line x1="244.1" y1="471.97" x2="245.9" y2="475.37" stroke-width="0.91"/>
<line x1="245.6" y1="471.1" x2="247.4" y2="474.5" stroke-width="0.91"/>
<line x1="236.8" y1="476" x2="237.8" y2="478.6" stroke-width="1.04"/>
<path d="M192,499 Q193,495.5 197,496 L201,496.5 Q203.5,498.5 203,503 Q202,507 198,507.5 L194,507 Q191.5,504 192,499 Z" stroke-width="1.69" fill="#fff"/>
<ellipse cx="195.6" cy="502.2" rx="3.0" ry="3.7" stroke-width="1.3" fill="none" transform="rotate(15 195.6 502.2)"/>
<line x1="199.5" y1="497.5" x2="201" y2="506.5" stroke-width="1.04"/>
<path d="M252,469 L263,462 Q266.5,462 266,465.5 Q265.5,469 262,470.5 L255,474.5 Z" stroke-width="1.43" fill="#fff"/>
<ellipse cx="253.3" cy="471.8" rx="2.4" ry="3.0" stroke-width="1.82" fill="none" transform="rotate(25 253.3 471.8)"/>
<line x1="268" y1="461" x2="301.7" y2="441" stroke-width="1.3"/>
<path d="M335.5,477.5 L357,489.5 Q359,491.5 357.5,493 Q355.5,494 353,492.5 L334,481.5 Q332.5,479.5 335.5,477.5 Z" stroke-width="1.62" fill="#fff"/>
<path d="M335.5,479.8 L356,491.2" stroke-width="1.69" fill="none"/>
<path d="M336,481 L354.5,491.6" stroke-width="0.91" fill="none"/>
<line x1="319" y1="471.5" x2="335" y2="479" stroke-width="1.3"/>
<line x1="303" y1="461.5" x2="303" y2="464" stroke-width="1.17"/>
<line x1="303" y1="467" x2="303" y2="519.5" stroke-width="1.3"/>
<line x1="303" y1="522.5" x2="303" y2="596" stroke-width="1.3"/>
<line x1="306.5" y1="463" x2="307" y2="464" stroke-width="1.17"/>
<line x1="288" y1="451.5" x2="288.5" y2="453.5" stroke-width="1.17"/>
<line x1="287.5" y1="455" x2="289.5" y2="455.5" stroke-width="1.17"/>
<path d="M310,463 L312.5,466.5 M309.5,466 L312,463.5" stroke-width="1.17" fill="none"/>
<line x1="303" y1="596" x2="280.7" y2="584" stroke-width="1.3"/>
<path d="M271.5,539 L271.2,508 Q271.5,505 274,504.8 Q277,505 276,507.5" stroke-width="1.43" fill="none"/>
<path d="M273.5,538 L273.5,509" stroke-width="1.17" fill="none"/>
<path d="M271.5,539 L279,552 Q281,555 280,558 L280.5,564" stroke-width="1.43" fill="none"/>
<path d="M273.5,538 L281,551" stroke-width="1.17" fill="none"/>
<ellipse cx="280" cy="556" rx="1.5" ry="2" stroke-width="1.17" fill="none" transform="rotate(0 280 556)"/>
<line x1="276.5" y1="507.5" x2="282" y2="511" stroke-width="1.04"/>
<path d="M278.5,514.5 L286,512.5 L288,518.5 L281,520.5 Z" stroke-width="1.56" fill="#fff"/>
<ellipse cx="284" cy="510.5" rx="3.4" ry="3.4" stroke-width="2.08" fill="#555" transform="rotate(0 284 510.5)"/>
<ellipse cx="284" cy="510.5" rx="1.4" ry="1.4" stroke-width="1.3" fill="#222" transform="rotate(0 284 510.5)"/>
<path d="M265.56,563.93 Q268.31,560.50 270.37,560.15 L274.49,563.59 Q274.84,565.31 272.43,567.71 L271.75,568.75" stroke-width="1.56" fill="none"/>
<path d="M265.56,563.93 L266.25,569.43 L268.31,569.78 L271.75,568.75" stroke-width="1.43" fill="none"/>
<path d="M266.25,570.12 Q262.81,573.56 263.15,576.31 Q263.84,578.71 266.93,579.40 L275.87,583.87" stroke-width="1.56" fill="#fff"/>
<path d="M270.37,572.53 L282.05,578.37" stroke-width="1.43" fill="none"/>
<path d="M271.06,571.49 L272.43,573.56 L273.81,572.18" stroke-width="1.3" fill="none"/>
<ellipse cx="281.2" cy="580.8" rx="2.6" ry="2.8" stroke-width="1.69" fill="none" transform="rotate(30 281.2 580.8)"/>
<path d="M275.18,583.87 L275.53,590.40 L283.43,595.55 L286.18,598.99 L285.84,605.86 L288.24,606.20 L289.27,598.99 L290.30,593.49 L289.27,590.05" stroke-width="1.56" fill="#fff"/>
<path d="M278.62,585.93 L288.24,590.74 M278.62,587.99 L287.55,592.46 M279.31,590.05 L286.87,594.18" stroke-width="1.04" fill="none"/>
<path d="M285.84,605.86 L286.87,609.30" stroke-width="1.82" fill="none"/>
<path d="M280.68,555.00 L279.99,569.78 L271.75,566.68" stroke-width="1.3" fill="none"/>
<path d="M267.00,632.00 L287.00,621.00 L291.00,620.00 L292.00,625.00 L270.00,637.00" stroke-width="1.56" fill="#fff"/>
<path d="M269.00,634.20 L289.00,623.20" stroke-width="1.17" fill="none"/>
<path d="M287.00,621.20 L287.50,626.00" stroke-width="1.17" fill="none"/>
<path d="M256.00,635.00 Q260.00,633.00 263.00,632.50 Q266.00,632.80 267.50,633.00 L270.00,637.00 Q268.50,642.00 265.00,644.50 L258.00,647.00" stroke-width="1.69" fill="#fff"/>
<ellipse cx="256" cy="641" rx="4.6" ry="5.6" stroke-width="2.08" fill="#fff" transform="rotate(-10 256 641)"/>
<path d="M252.50,642.00 L258.00,642.00 M254.50,638.50 L256.00,645.00" stroke-width="1.17" fill="none"/>
<line x1="287.2" y1="607.9" x2="287.2" y2="621.5" stroke-width="1.56"/>
<line x1="292" y1="619.5" x2="301" y2="614.5" stroke-width="1.3"/>
<path d="M304.00,606.50 L310.00,604.00 Q314.00,607.00 314.00,612.00 L309.00,618.00" stroke-width="1.56" fill="#fff"/>
<path d="M309.00,603.50 L311.50,603.00 L312.00,605.00 M311.50,606.00 L314.00,605.50 L314.20,607.50 M312.50,609.00 L314.80,609.00 L314.80,611.00" stroke-width="2.08" fill="none"/>
<ellipse cx="303.5" cy="612.5" rx="5.3" ry="6.4" stroke-width="2.08" fill="#fff" transform="rotate(10 303.5 612.5)"/>
<ellipse cx="303.2" cy="613.5" rx="2.2" ry="2.5" stroke-width="1.43" fill="none" transform="rotate(10 303.2 613.5)"/>
<ellipse cx="323.7" cy="601.7" rx="4.6" ry="5.8" stroke-width="2.47" fill="none" transform="rotate(25 323.7 601.7)"/>
<ellipse cx="324" cy="602" rx="1.7" ry="2.1" stroke-width="1.69" fill="none" transform="rotate(0 324 602)"/>
<line x1="329.4" y1="598" x2="344" y2="590" stroke-width="1.3"/>
<path d="M385.7,511 Q360,520 332.6,538.2 Q323,546 317.5,556 Q316,562 318.8,570 L334,576" stroke-width="1.43" fill="none"/>
<path d="M321,553 Q330,558 358,576.5 Q366,582 371,582.9 Q390,583 426,572 Q440,566 446.3,558.4" stroke-width="1.43" fill="none"/>
<path d="M317.7,563.7 Q330,572 362.4,595.6 Q366,599 372,598.5 Q395,595 411,589 Q430,580 459,563.7" stroke-width="1.43" fill="none"/>
<path d="M419.7,586.1 L434.6,590.3 Q450,582 464.4,568" stroke-width="1.3" fill="none"/>
<path d="M318.8,569.1 L339,578.6 L338,581.8 L345.4,584 L364.5,594.6 L361.3,597.7 L347.5,589.2" stroke-width="1.3" fill="none"/>
<path d="M195.6,708.75 L207.2,690 L210.6,693.5 L228.1,684.5 L230.6,686 L230.9,700 L210.3,711.3 L210.5,716.6 Z" stroke-width="1.56" fill="#fff"/>
<path d="M198.5,708 L208.5,692" stroke-width="1.17" fill="none"/>
<path d="M210.6,696 L228.5,687 L229,700" stroke-width="1.17" fill="none"/>
<path d="M210.6,696 L210.3,711.3" stroke-width="1.3" fill="none"/>
<text transform="translate(209.6,708.9) skewY(-25)" font-size="12.2" font-weight="bold" style="font-family:Liberation Sans;stroke-width:0.5px" textLength="18.3" lengthAdjust="spacingAndGlyphs">FWD</text>
<path d="M555.00,424.00 Q567.00,431.00 573.00,440.00 Q577.00,445.00 579.50,449.00" stroke-width="3.6" fill="none" stroke="#333"/>
<path d="M555.00,424.00 Q567.00,431.00 573.00,440.00 Q577.00,445.00 579.50,449.00" stroke-width="1.6" fill="none" stroke="#fff"/>
<path d="M553.50,428.50 Q563.00,434.00 568.00,442.00 Q571.00,447.00 573.50,452.00" stroke-width="3.6" fill="none" stroke="#333"/>
<path d="M553.50,428.50 Q563.00,434.00 568.00,442.00 Q571.00,447.00 573.50,452.00" stroke-width="1.6" fill="none" stroke="#fff"/>
<path d="M575.00,454.00 Q576.00,460.00 575.50,468.00" stroke-width="3.6" fill="none" stroke="#333"/>
<path d="M575.00,454.00 Q576.00,460.00 575.50,468.00" stroke-width="1.6" fill="none" stroke="#fff"/>
<path d="M579.50,452.00 Q580.50,460.00 579.50,469.00" stroke-width="3.6" fill="none" stroke="#333"/>
<path d="M579.50,452.00 Q580.50,460.00 579.50,469.00" stroke-width="1.6" fill="none" stroke="#fff"/>
<path d="M546.00,453.50 Q550.00,462.00 557.00,468.00 Q560.00,470.50 562.50,473.00" stroke-width="3.6" fill="none" stroke="#333"/>
<path d="M546.00,453.50 Q550.00,462.00 557.00,468.00 Q560.00,470.50 562.50,473.00" stroke-width="1.6" fill="none" stroke="#fff"/>
<path d="M548.00,454.50 Q552.00,462.50 559.00,467.00" stroke-width="1.04" fill="none"/>
<path d="M571.50,453.00 L581.00,448.00 Q584.50,448.50 584.50,452.00 L575.00,455.50 Q571.00,456.00 571.50,453.00 Z" stroke-width="1.56" fill="#fff"/>
<path d="M561.00,474.00 L572.00,471.00 L573.50,477.00 L564.00,480.00 Q560.00,479.50 561.00,474.00 Z" stroke-width="1.43" fill="#fff"/>
<ellipse cx="562.5" cy="478.5" rx="1.8" ry="1.8" stroke-width="1.3" fill="none" transform="rotate(0 562.5 478.5)"/>
<path d="M537.00,472.00 L541.00,463.00 L565.00,473.00" stroke-width="1.3" fill="none"/>
<path d="M561.00,462.50 L570.00,457.50 M561.00,462.50 L592.50,480.50 L580.00,487.50" stroke-width="1.3" fill="none"/>
<path d="M546.56,506.25 Q549.19,495.75 559.69,486.56 Q566.25,485.25 574.12,487.22 L584.62,491.81 L596.43,497.06 L608.24,492.47 L637.11,508.87 Q641.05,512.81 637.11,516.75 L618.74,540.37 Q616.12,542.99 613.49,541.68 L601.68,529.87 L595.12,523.31 L591.18,519.37 L581.99,523.31 L547.87,523.31 Q545.25,522.65 545.91,519.37 Z" stroke-width="1.56" fill="#fff"/>
<path d="M546.56,518.06 L574.12,519.37 L597.74,510.84" stroke-width="1.3" fill="none"/>
<path d="M610.87,497.06 L637.11,510.18" stroke-width="1.3" fill="none"/>
<path d="M596.43,497.06 L597.74,523.31" stroke-width="1.3" fill="none"/>
<path d="M559.03,495.75 L559.69,506.25 Q562.31,511.50 570.84,511.50 Q580.68,510.84 582.26,504.93 L581.99,494.44" stroke-width="1.56" fill="none"/>
<ellipse cx="570.2" cy="494.4" rx="11" ry="5.4" stroke-width="1.56" fill="none" transform="rotate(0 570.2 494.4)"/>
<ellipse cx="570.2" cy="495" rx="8.3" ry="3.8" stroke-width="2.08" fill="none" transform="rotate(0 570.2 495)"/>
<ellipse cx="549.2" cy="513.5" rx="3" ry="2.4" stroke-width="1.56" fill="none" transform="rotate(0 549.2 513.5)"/>
<ellipse cx="593.8" cy="499" rx="2.8" ry="2.8" stroke-width="2.08" fill="#666" transform="rotate(0 593.8 499)"/>
<path d="M599.06,503.62 L599.71,515.43 Q602.99,517.40 606.27,515.43 L605.62,503.62" stroke-width="1.43" fill="#fff"/>
<ellipse cx="602.5" cy="503" rx="3.3" ry="3" stroke-width="1.56" fill="none" transform="rotate(0 602.5 503)"/>
<ellipse cx="617.4" cy="510.8" rx="3.2" ry="4" stroke-width="1.56" fill="none" transform="rotate(20 617.4 510.8)"/>
<ellipse cx="635.8" cy="512.8" rx="3.6" ry="3.8" stroke-width="1.69" fill="#fff" transform="rotate(0 635.8 512.8)"/>
<ellipse cx="616.1" cy="539.7" rx="3.6" ry="3.8" stroke-width="1.69" fill="#fff" transform="rotate(0 616.1 539.7)"/>
<path d="M620.05,497.06 L623.99,491.81 Q627.27,492.47 627.93,495.09 L626.61,501.00" stroke-width="1.43" fill="none"/>
<path d="M539.4,511 L558.4,499.7" stroke-width="1.0" stroke-dasharray="2.2,1.8" fill="none"/>
<path d="M509.07,530.49 L531.04,518.74 Q531.32,516.09 528.96,514.86 L506.99,526.61" stroke-width="1.3" fill="#fff"/>
<line x1="520.63" y1="524.31" x2="517.5" y2="520.99" stroke-width="1.04"/>
<line x1="521.65" y1="523.76" x2="518.51" y2="520.45" stroke-width="1.04"/>
<line x1="522.66" y1="523.22" x2="519.53" y2="519.91" stroke-width="1.04"/>
<line x1="523.67" y1="522.68" x2="520.54" y2="519.37" stroke-width="1.04"/>
<line x1="524.69" y1="522.14" x2="521.55" y2="518.82" stroke-width="1.04"/>
<line x1="525.7" y1="521.59" x2="522.57" y2="518.28" stroke-width="1.04"/>
<line x1="526.72" y1="521.05" x2="523.58" y2="517.74" stroke-width="1.04"/>
<line x1="527.73" y1="520.51" x2="524.6" y2="517.2" stroke-width="1.04"/>
<line x1="528.74" y1="519.97" x2="525.61" y2="516.65" stroke-width="1.04"/>
<line x1="529.76" y1="519.42" x2="526.62" y2="516.11" stroke-width="1.04"/>
<path d="M511.27,531.81 L507.08,534.05 L502.93,526.29 L507.12,524.05 Z" stroke-width="1.3" fill="#fff"/>
<ellipse cx="505.0" cy="530.17" rx="2.4200000000000004" ry="4.4" stroke-width="1.3" fill="#fff" transform="rotate(-28.1 505.0 530.17)"/>
<ellipse cx="534.6" cy="513.2" rx="3.2" ry="4.4" stroke-width="2.08" fill="none" transform="rotate(25 534.6 513.2)"/>
<ellipse cx="534.9" cy="513.5" rx="1.2" ry="1.6" stroke-width="1.3" fill="none" transform="rotate(0 534.9 513.5)"/>
</svg></body></html>
